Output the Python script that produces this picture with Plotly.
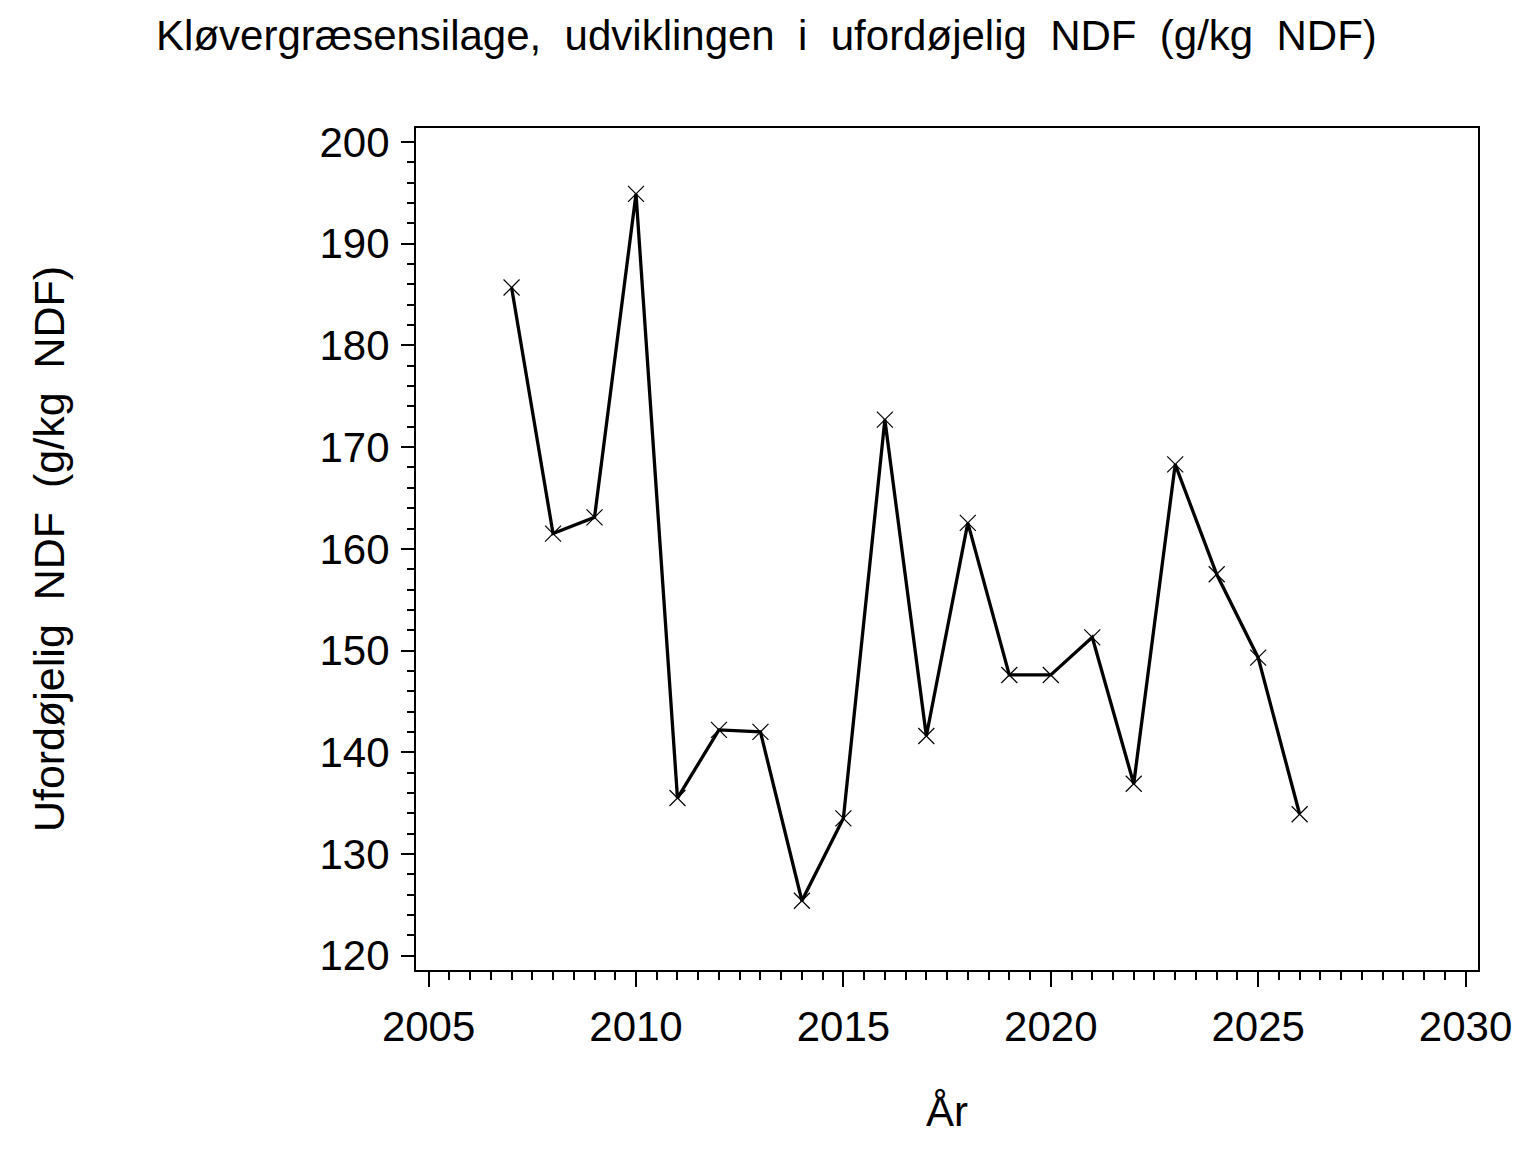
import plotly.graph_objects as go

years = [2007, 2008, 2009, 2010, 2011, 2012, 2013, 2014, 2015, 2016,
         2017, 2018, 2019, 2020, 2021, 2022, 2023, 2024, 2025, 2026]
undig_ndf = [185.7, 161.5, 163.1, 194.9, 135.5, 142.2, 142.0, 125.4, 133.5, 172.7,
             141.6, 162.55, 147.6, 147.6, 151.3, 136.9, 168.3, 157.5, 149.3, 133.9]

x_ticks = [2005, 2010, 2015, 2020, 2025, 2030]
y_ticks = [120, 130, 140, 150, 160, 170, 180, 190, 200]

title_text = "Kløvergræsensilage,\u00a0 udviklingen\u00a0 i\u00a0 ufordøjelig\u00a0 NDF\u00a0 (g/kg\u00a0 NDF)"
y_title = "Ufordøjelig\u00a0 NDF\u00a0 (g/kg\u00a0 NDF)"
x_title = "År"

FONT = "Liberation Sans, Arial, sans-serif"

fig = go.Figure()
fig.add_trace(go.Scatter(
    x=years, y=undig_ndf, mode="lines+markers",
    line=dict(color="black", width=3.3),
    marker=dict(symbol="x-thin", size=16, line=dict(color="black", width=1.2), color="black"),
    showlegend=False,
))

fig.update_layout(
    width=1536, height=1152,
    paper_bgcolor="white", plot_bgcolor="white",
    margin=dict(l=408, r=66, t=120, b=190, pad=0),
    font=dict(family=FONT, size=42, color="black"),
    title=dict(text=title_text, x=0.4938, xanchor="center", y=1 - 27/1152, yanchor="middle",
               font=dict(family=FONT, size=42, color="black")),
)

fig.update_xaxes(
    range=[2004.696, 2030.30], tickvals=x_ticks, ticktext=[str(v) for v in x_ticks],
    showgrid=False, zeroline=False, showline=True, linecolor="black", linewidth=2, mirror=True,
    ticks="outside", ticklen=15, tickwidth=2, tickcolor="black",
    minor=dict(ticks="outside", ticklen=8, tickwidth=1.5, tickcolor="black", dtick=0.5, tick0=2005, showgrid=False),
    tickfont=dict(family=FONT, size=42), ticklabelstandoff=4,
    title=dict(text=x_title, font=dict(family=FONT, size=42), standoff=47),
)
fig.update_yaxes(
    range=[118.59, 201.38], tickvals=y_ticks, ticktext=[str(v) for v in y_ticks],
    showgrid=False, zeroline=False, showline=True, linecolor="black", linewidth=2, mirror=True,
    ticks="outside", ticklen=13, tickwidth=2, tickcolor="black",
    minor=dict(ticks="outside", ticklen=7, tickwidth=1.5, tickcolor="black", dtick=2, tick0=120, showgrid=False),
    tickfont=dict(family=FONT, size=42), ticklabelstandoff=3,
    title=dict(text=y_title, font=dict(family=FONT, size=43), standoff=241),
)

fig.write_html("out.html")
